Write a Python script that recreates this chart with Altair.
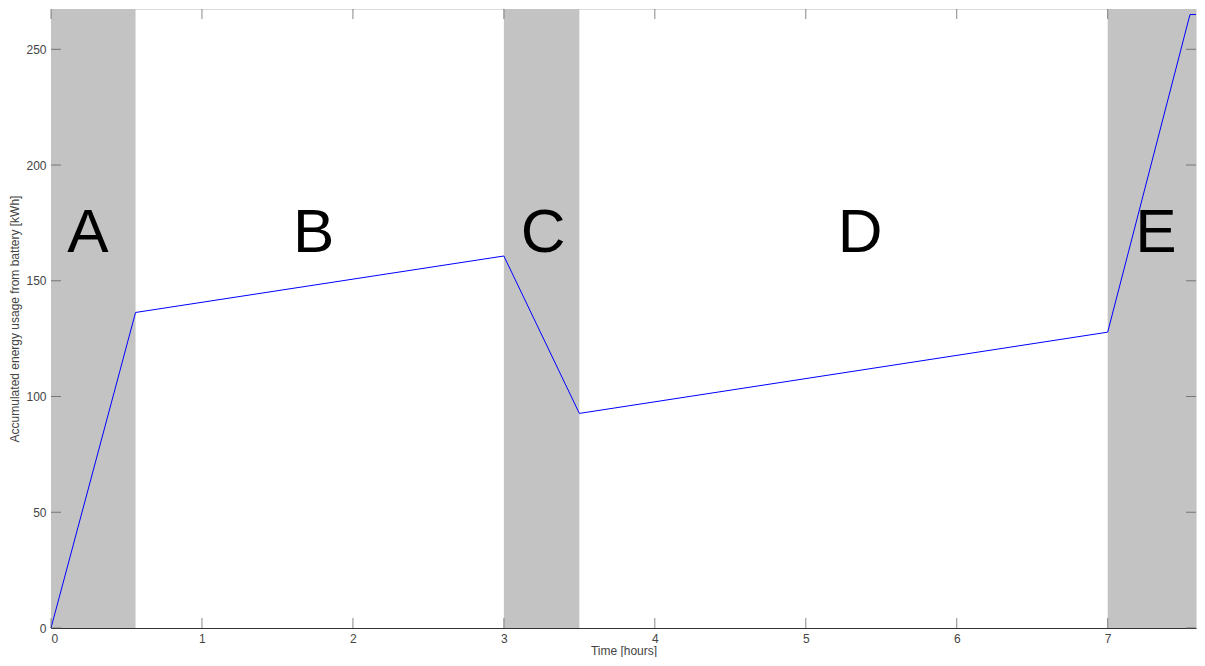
import altair as alt
import pandas as pd

# data
line_x = [0.0, 0.56, 3.0, 3.5, 7.0, 7.545, 7.585]
line_y = [0.0, 136.3, 160.7, 92.7, 127.8, 265.0, 265.0]

shade_start = [0.0, 3.0, 7.0]
shade_end = [0.56, 3.5, 7.585]

phase_labels = ["A", "B", "C", "D", "E"]
phase_x = [0.245, 1.74, 3.26, 5.36, 7.32]
phase_y = [170.5, 170.5, 170.5, 170.5, 170.5]

x_ticks = [0, 1, 2, 3, 4, 5, 6, 7]
y_ticks = [0, 50, 100, 150, 200, 250]

XMAX = 7.585
YMAX = 267.4
W = 1145
H = 619
FONT = "Liberation Sans"

line_df = pd.DataFrame({"t": line_x, "e": line_y})
shade_df = pd.DataFrame({"s": shade_start, "e": shade_end})
lab_df = pd.DataFrame({"lab": phase_labels, "t": phase_x, "e": phase_y})
xt_df = pd.DataFrame({"t": x_ticks})
yt_df = pd.DataFrame({"e": y_ticks})

xscale = alt.Scale(domain=[0, XMAX], nice=False, zero=False)
yscale = alt.Scale(domain=[0, YMAX], nice=False, zero=False)

xaxis = alt.Axis(values=x_ticks, format="d", ticks=False, domain=True,
                 domainColor="#333", grid=False,
                 labelPadding=5, labelFont=FONT, labelFontSize=12, labelColor="#444",
                 title="Time [hours]", titleFont=FONT, titleFontSize=12,
                 titleFontWeight="normal", titleColor="#444",
                 titleX=W / 2, titleY=22, titleBaseline="middle")
yaxis = alt.Axis(values=y_ticks, format="d", ticks=False, domain=True,
                 domainColor="#333", grid=False,
                 labelPadding=5, labelFont=FONT, labelFontSize=12, labelColor="#444",
                 title="Accumulated energy usage from battery [kWh]", titleFont=FONT,
                 titleFontSize=12, titleFontWeight="normal", titleColor="#444",
                 titleX=-37, titleY=H / 2, titleAngle=270, titleBaseline="middle")

shade = alt.Chart(shade_df).mark_rect(color="#c3c3c3").encode(
    x=alt.X("s:Q", scale=xscale, axis=xaxis),
    x2="e:Q",
)

line = alt.Chart(line_df).mark_line(color="#0000ff", strokeWidth=1).encode(
    x=alt.X("t:Q", scale=xscale, axis=xaxis),
    y=alt.Y("e:Q", scale=yscale, axis=yaxis),
    order="t:Q",
)

labels = alt.Chart(lab_df).mark_text(font=FONT, fontSize=62, color="black",
                                      baseline="middle", align="center").encode(
    x=alt.X("t:Q", scale=xscale),
    y=alt.Y("e:Q", scale=yscale),
    text="lab:N",
)

tick_color = "#555"
bot_ticks = alt.Chart(xt_df).mark_tick(color=tick_color, size=10, thickness=1).encode(
    x=alt.X("t:Q", scale=xscale), y=alt.value(H - 5))
top_ticks = alt.Chart(xt_df).mark_tick(color=tick_color, size=10, thickness=1).encode(
    x=alt.X("t:Q", scale=xscale), y=alt.value(5))
left_ticks = alt.Chart(yt_df).mark_tick(color=tick_color, size=10, thickness=1).encode(
    y=alt.Y("e:Q", scale=yscale), x=alt.value(5))
right_ticks = alt.Chart(yt_df).mark_tick(color=tick_color, size=10, thickness=1).encode(
    y=alt.Y("e:Q", scale=yscale), x=alt.value(W - 5))

chart = alt.layer(shade, line, labels, bot_ticks, top_ticks, left_ticks, right_ticks).properties(
    width=W, height=H,
    autosize=alt.AutoSizeParams(type="none"),
    padding={"left": 43, "top": 1, "right": 1, "bottom": 29},
).configure_view(stroke="#333", strokeWidth=1).configure(background="white")

chart.save("out.html", embed_options={"renderer": "svg", "actions": False})
